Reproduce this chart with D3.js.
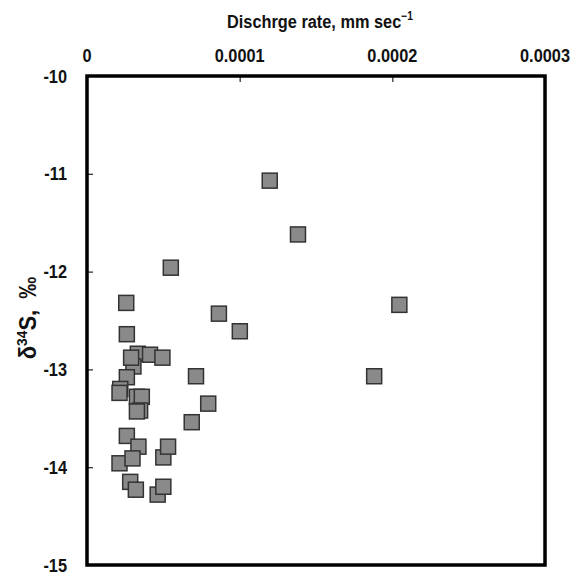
<!DOCTYPE html>
<html>
<head>
<meta charset="utf-8">
<script src="https://cdn.jsdelivr.net/npm/d3@7"></script>
<style>
  body { margin: 0; background: #fff; }
  svg text { font-family: "Liberation Sans", Arial, sans-serif; font-weight: bold; fill: #111; }
</style>
</head>
<body>
<div id="chart"></div>
<script>

// discharge rate, mm/sec
var discharge = [
  1.197e-4, 1.382e-4, 0.549e-4, 2.046e-4, 0.864e-4, 1.001e-4, 1.881e-4, 0.714e-4,
  0.794e-4, 0.686e-4, 0.257e-4, 0.261e-4, 0.333e-4, 0.413e-4, 0.494e-4, 0.304e-4,
  0.289e-4, 0.261e-4, 0.218e-4, 0.213e-4, 0.327e-4, 0.359e-4, 0.348e-4, 0.327e-4,
  0.261e-4, 0.337e-4, 0.500e-4, 0.531e-4, 0.213e-4, 0.298e-4, 0.283e-4, 0.320e-4,
  0.463e-4, 0.500e-4
];

// delta 34S, permil
var d34S = [
  -11.07, -11.62, -11.96, -12.34, -12.43, -12.61, -13.07, -13.07,
  -13.35, -13.54, -12.32, -12.64, -12.84, -12.85, -12.88, -12.97,
  -12.88, -13.08, -13.20, -13.24, -13.28, -13.28, -13.42, -13.43,
  -13.68, -13.79, -13.90, -13.79, -13.96, -13.91, -14.15, -14.23,
  -14.28, -14.20
];

var xTicks = [0, 0.0001, 0.0002, 0.0003];
var xTickLabels = ["0", "0.0001", "0.0002", "0.0003"];
var yTicks = [-10, -11, -12, -13, -14, -15];
var yTickLabels = ["-10", "-11", "-12", "-13", "-14", "-15"];

//
// setup
//
var width = 583,
    height = 573,
    margin = { top: 76, right: 38, bottom: 8, left: 87 },
    squeeze = 0.86; // the original type is a condensed face

var svg = d3.select("#chart")
    .append("svg")
    .attr("width", width)
    .attr("height", height);

var x = d3.scaleLinear()
    .domain([0, 0.0003])
    .range([margin.left, width - margin.right]);

var y = d3.scaleLinear()
    .domain([-15, -10])
    .range([height - margin.bottom, margin.top]);

function narrowAt(px, py) {
  return "translate(" + px + "," + py + ") scale(" + squeeze + ",1)";
}

//
// axes (ticks point inward, labels drawn separately)
//
var xAxis = svg.append("g")
    .attr("transform", "translate(0," + margin.top + ")")
    .call(d3.axisBottom(x).tickValues(xTicks.slice(1, -1)).tickSize(6).tickFormat(""));
xAxis.select(".domain").remove();
xAxis.selectAll("line").attr("stroke", "#222").attr("stroke-width", 1.2);

var yAxis = svg.append("g")
    .attr("transform", "translate(" + margin.left + ",0)")
    .call(d3.axisRight(y).tickValues(yTicks.slice(1, -1)).tickSize(6).tickFormat(""));
yAxis.select(".domain").remove();
yAxis.selectAll("line").attr("stroke", "#222").attr("stroke-width", 1.2);

svg.append("g").selectAll("text")
    .data(xTicks)
    .enter()
    .append("text")
    .attr("transform", function(d) { return narrowAt(x(d), margin.top - 14); })
    .attr("text-anchor", "middle")
    .style("font-size", "19px")
    .text(function(d, i) { return xTickLabels[i]; });

svg.append("g").selectAll("text")
    .data(yTicks)
    .enter()
    .append("text")
    .attr("transform", function(d) { return narrowAt(margin.left - 20, y(d)); })
    .attr("dy", "0.35em")
    .attr("text-anchor", "end")
    .style("font-size", "19px")
    .text(function(d, i) { return yTickLabels[i]; });

//
// frame
//
svg.append("rect")
    .attr("x", x(0))
    .attr("y", y(-10))
    .attr("width", x(0.0003) - x(0))
    .attr("height", y(-15) - y(-10))
    .attr("fill", "none")
    .attr("stroke", "#000")
    .attr("stroke-width", 3.5);

//
// points
//
var size = 15;
svg.append("g").selectAll("rect")
    .data(discharge)
    .enter()
    .append("rect")
    .attr("x", function(d) { return x(d) - size / 2; })
    .attr("y", function(d, i) { return y(d34S[i]) - size / 2; })
    .attr("width", size)
    .attr("height", size)
    .attr("fill", "#8a8a8a")
    .attr("stroke", "#333")
    .attr("stroke-width", 1.5);

//
// titles
//
var title = svg.append("text")
    .attr("transform", narrowAt(320, 28))
    .attr("text-anchor", "middle")
    .style("font-size", "19px");
title.append("tspan").text("Dischrge rate, mm sec");
title.append("tspan").attr("dy", -8).style("font-size", "12px").text("\u22121");

var ylab = svg.append("text")
    .attr("transform", "translate(36,318) rotate(-90) scale(0.92,1)")
    .attr("text-anchor", "middle")
    .style("font-size", "24px");
ylab.append("tspan").text("\u03b4");
ylab.append("tspan").attr("dy", -9).style("font-size", "15px").text("34");
ylab.append("tspan").attr("dy", 9).text("S,");
ylab.append("tspan").attr("dx", 12).text("\u2030");

</script>
</body>
</html>
